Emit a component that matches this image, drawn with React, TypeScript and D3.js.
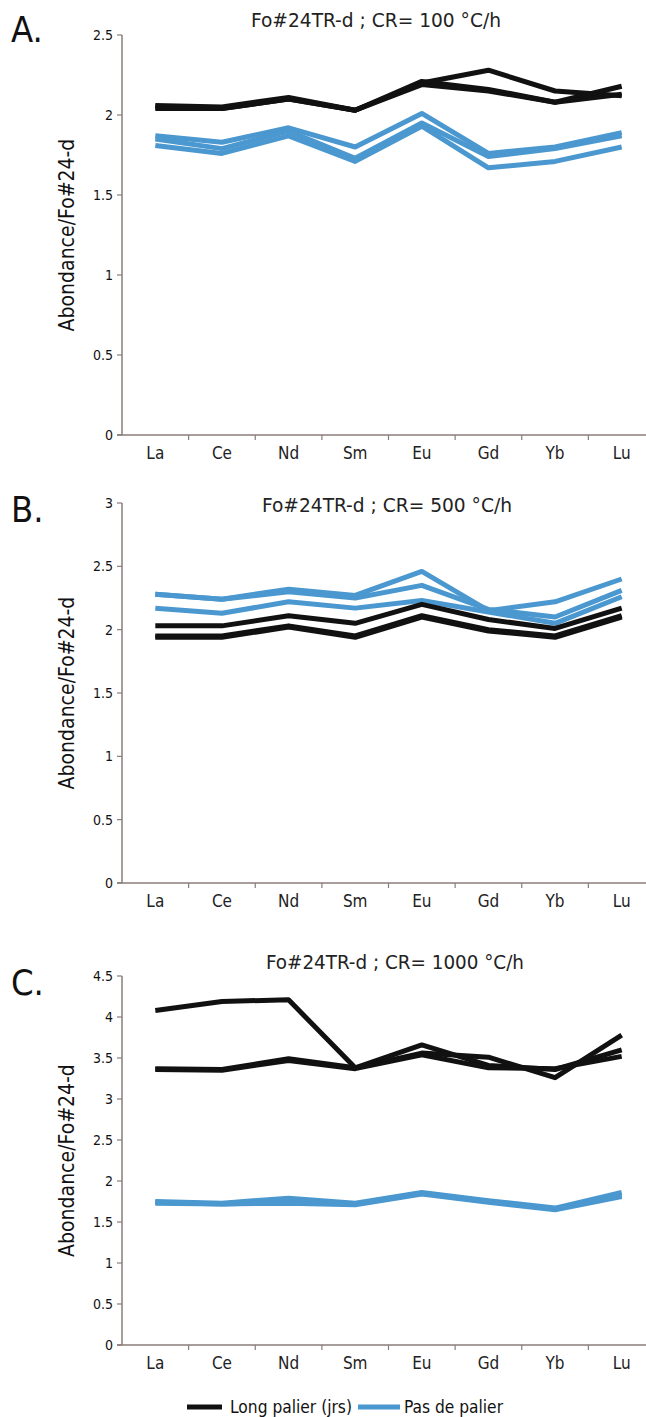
import React from "react";
import * as d3 from "d3";

const categories = ["La", "Ce", "Nd", "Sm", "Eu", "Gd", "Yb", "Lu"];

// Panel A : CR = 100 °C/h
const aLong1 = [2.05, 2.04, 2.1, 2.03, 2.2, 2.28, 2.15, 2.12];
const aLong2 = [2.04, 2.04, 2.1, 2.03, 2.21, 2.16, 2.08, 2.18];
const aLong3 = [2.06, 2.05, 2.11, 2.03, 2.19, 2.15, 2.08, 2.13];
const aPas1 = [1.87, 1.83, 1.92, 1.8, 2.01, 1.76, 1.8, 1.89];
const aPas2 = [1.85, 1.79, 1.9, 1.73, 1.95, 1.74, 1.79, 1.87];
const aPas3 = [1.81, 1.76, 1.87, 1.71, 1.93, 1.67, 1.71, 1.8];

// Panel B : CR = 500 °C/h
const bLong1 = [2.03, 2.03, 2.11, 2.05, 2.2, 2.08, 2.01, 2.17];
const bLong2 = [1.95, 1.95, 2.03, 1.95, 2.11, 2.0, 1.95, 2.11];
const bLong3 = [1.94, 1.94, 2.02, 1.94, 2.1, 1.99, 1.94, 2.1];
const bPas1 = [2.28, 2.24, 2.32, 2.27, 2.46, 2.15, 2.22, 2.4];
const bPas2 = [2.28, 2.24, 2.3, 2.25, 2.35, 2.16, 2.1, 2.31];
const bPas3 = [2.17, 2.13, 2.22, 2.17, 2.23, 2.14, 2.05, 2.26];

// Panel C : CR = 1000 °C/h
const cLong1 = [4.08, 4.19, 4.21, 3.38, 3.66, 3.41, 3.36, 3.6];
const cLong2 = [3.37, 3.36, 3.49, 3.38, 3.56, 3.51, 3.26, 3.78];
const cLong3 = [3.36, 3.35, 3.47, 3.37, 3.54, 3.38, 3.37, 3.52];
const cPas1 = [1.75, 1.73, 1.79, 1.73, 1.86, 1.76, 1.67, 1.86];
const cPas2 = [1.74, 1.72, 1.74, 1.72, 1.85, 1.75, 1.66, 1.82];
const cPas3 = [1.73, 1.72, 1.73, 1.71, 1.84, 1.74, 1.65, 1.81];

const ticksA = [0, 0.5, 1, 1.5, 2, 2.5];
const ticksB = [0, 0.5, 1, 1.5, 2, 2.5, 3];
const ticksC = [0, 0.5, 1, 1.5, 2, 2.5, 3, 3.5, 4, 4.5];

const legendLabels = ["Long palier (jrs)", "Pas de palier"];

const BLACK = "#111111";
const BLUE = "#4a98cf";
const AXIS = "#8a7d79";
const FONT = "'DejaVu Sans Condensed', 'DejaVu Sans', sans-serif";

const X0 = 122;
const X1 = 655;

type PanelProps = {
  letter: string;
  title: string;
  titleX: number;
  titleY: number;
  titleLen: number;
  letterY: number;
  yBottom: number;
  yTop: number;
  ticks: number[];
  longs: number[][];
  pas: number[][];
};

function Panel(p: PanelProps) {
  const x = d3.scaleBand<string>().domain(categories).range([X0, X1]);
  const maxV = p.ticks[p.ticks.length - 1];
  const y = d3.scaleLinear().domain([0, maxV]).range([p.yBottom, p.yTop]);
  const line = d3
    .line<number>()
    .x((_, i) => (x(categories[i]) as number) + x.bandwidth() / 2)
    .y((v) => y(v));
  const fmt = (v: number) => String(v);
  return (
    <g>
      <text x={11} y={p.letterY} fontFamily={FONT} fontSize={36} fill="#111">
        {p.letter}
      </text>
      <text
        x={p.titleX}
        y={p.titleY}
        textAnchor="middle"
        fontFamily={FONT}
        fontSize={20}
        textLength={p.titleLen}
        lengthAdjust="spacingAndGlyphs"
        fill="#222"
      >
        {p.title}
      </text>
      <text
        transform={`translate(74,${(p.yBottom + p.yTop) / 2}) rotate(-90)`}
        textAnchor="middle"
        fontFamily={FONT}
        fontSize={21}
        fill="#111"
      >
        Abondance/Fo#24-d
      </text>
      {/* y axis */}
      <line x1={X0} x2={X0} y1={p.yBottom} y2={p.yTop} stroke={AXIS} strokeWidth={1.5} />
      {p.ticks.map((t) => (
        <g key={t}>
          <line x1={X0 - 5} x2={X0} y1={y(t)} y2={y(t)} stroke={AXIS} strokeWidth={1.2} />
          <text
            x={X0 - 9}
            y={y(t)}
            dy="0.35em"
            textAnchor="end"
            fontFamily={FONT}
            fontSize={14}
            fill="#111"
          >
            {fmt(t)}
          </text>
        </g>
      ))}
      {/* x axis */}
      <line x1={X0 - 5} x2={X1} y1={p.yBottom} y2={p.yBottom} stroke={AXIS} strokeWidth={1.5} />
      {categories.map((c) => (
        <g key={c}>
          <line
            x1={(x(c) as number) + x.bandwidth()}
            x2={(x(c) as number) + x.bandwidth()}
            y1={p.yBottom}
            y2={p.yBottom + 5}
            stroke={AXIS}
            strokeWidth={1.2}
          />
          <text
            x={(x(c) as number) + x.bandwidth() / 2}
            y={p.yBottom + 24}
            textAnchor="middle"
            fontFamily={FONT}
            fontSize={17}
            fill="#222"
          >
            {c}
          </text>
        </g>
      ))}
      {p.pas.map((s, i) => (
        <path
          key={"p" + i}
          d={line(s) as string}
          fill="none"
          stroke={BLUE}
          strokeWidth={5}
          strokeLinejoin="round"
        />
      ))}
      {p.longs.map((s, i) => (
        <path
          key={"l" + i}
          d={line(s) as string}
          fill="none"
          stroke={BLACK}
          strokeWidth={5}
          strokeLinejoin="round"
        />
      ))}
    </g>
  );
}

export default function App() {
  return (
    <svg
      width={646}
      height={1417}
      style={{ position: "absolute", left: 0, top: 0, background: "#fff" }}
    >
      <rect width={646} height={1417} fill="#fff" />
      <Panel
        letter="A."
        title="Fo#24TR-d  ;  CR= 100 °C/h"
        titleX={376}
        titleY={27}
        titleLen={250}
        letterY={42}
        yBottom={435}
        yTop={35}
        ticks={ticksA}
        longs={[aLong1, aLong2, aLong3]}
        pas={[aPas1, aPas2, aPas3]}
      />
      <Panel
        letter="B."
        title="Fo#24TR-d  ;  CR= 500 °C/h"
        titleX={387}
        titleY={512}
        titleLen={250}
        letterY={522}
        yBottom={883}
        yTop={503}
        ticks={ticksB}
        longs={[bLong1, bLong2, bLong3]}
        pas={[bPas1, bPas2, bPas3]}
      />
      <Panel
        letter="C."
        title="Fo#24TR-d  ;  CR= 1000 °C/h"
        titleX={395}
        titleY={969}
        titleLen={258}
        letterY={995}
        yBottom={1345}
        yTop={976}
        ticks={ticksC}
        longs={[cLong1, cLong2, cLong3]}
        pas={[cPas1, cPas2, cPas3]}
      />
      {/* legend */}
      <line x1={187} x2={222} y1={1407} y2={1407} stroke={BLACK} strokeWidth={5} />
      <text
        x={230}
        y={1407}
        dy="0.35em"
        fontFamily={FONT}
        fontSize={18}
        textLength={122}
        lengthAdjust="spacingAndGlyphs"
        fill="#111"
      >
        {legendLabels[0]}
      </text>
      <line x1={358} x2={400} y1={1407} y2={1407} stroke={BLUE} strokeWidth={5} />
      <text
        x={404}
        y={1407}
        dy="0.35em"
        fontFamily={FONT}
        fontSize={18}
        textLength={99}
        lengthAdjust="spacingAndGlyphs"
        fill="#111"
      >
        {legendLabels[1]}
      </text>
    </svg>
  );
}
